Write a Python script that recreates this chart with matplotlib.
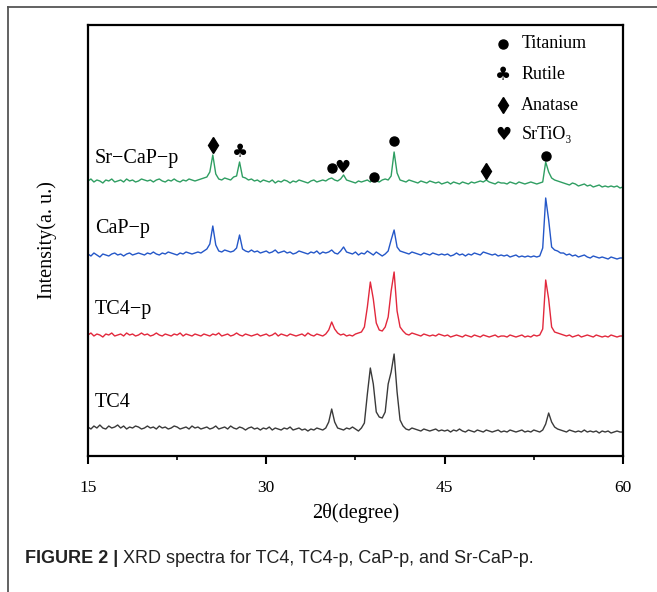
import matplotlib
matplotlib.use("Agg")
import numpy as np
import matplotlib.pyplot as plt
from matplotlib.lines import Line2D

# 2theta sampling (0.25 deg steps, 15..60)
two_theta = np.arange(15.0, 60.001, 0.25)

# raw intensities (a.u.), one row per 5 degrees
tc4 = [
    7, 5, 8, 6, 9, 6, 5, 8, 6, 7, 9, 6, 8, 5, 7, 6, 8, 7, 5, 6,
    8, 6, 7, 5, 8, 6, 7, 5, 6, 8, 7, 5, 6, 7, 5, 8, 6, 7, 5, 6,
    7, 5, 6, 8, 5, 6, 7, 5, 8, 6, 5, 7, 6, 4, 6, 7, 5, 6, 4, 6,
    5, 7, 4, 6, 5, 4, 6, 5, 7, 4, 5, 6, 4, 5, 3, 5, 4, 6, 5, 4,
    6, 12, 25, 12, 6, 5, 4, 6, 5, 7, 5, 3, 6, 11, 40, 66, 50, 22, 17, 16,
    22, 50, 62, 80, 42, 14, 8, 5, 4, 6, 5, 4, 3, 5, 4, 3, 4, 5, 3, 4,
    3, 4, 2, 4, 3, 5, 3, 2, 4, 3, 2, 4, 3, 2, 4, 3, 2, 3, 4, 2,
    3, 2, 4, 3, 2, 3, 4, 2, 3, 2, 4, 3, 2, 4, 10, 21, 12, 7, 5, 4,
    3, 2, 4, 3, 2, 3, 2, 4, 2, 3, 2, 3, 1, 3, 2, 3, 1, 2, 3, 2,
    2]
tc4_p = [
    6, 8, 5, 7, 6, 4, 7, 6, 8, 5, 6, 7, 5, 8, 6, 7, 5, 6, 8, 6,
    7, 5, 6, 8, 6, 5, 7, 6, 5, 7, 6, 8, 5, 7, 6, 5, 7, 6, 5, 7,
    6, 5, 7, 6, 8, 5, 6, 7, 5, 6, 8, 6, 5, 7, 6, 5, 6, 7, 5, 6,
    7, 5, 6, 8, 5, 7, 6, 5, 7, 6, 5, 6, 7, 5, 8, 6, 5, 7, 6, 5,
    7, 11, 19, 12, 8, 6, 7, 5, 6, 5, 7, 8, 9, 14, 34, 59, 42, 18, 11, 10,
    14, 24, 50, 69, 30, 14, 10, 7, 6, 8, 7, 6, 5, 7, 6, 5, 6, 5, 7, 6,
    5, 6, 4, 5, 6, 5, 4, 6, 5, 4, 6, 5, 4, 6, 5, 4, 5, 6, 4, 5,
    5, 4, 6, 5, 4, 5, 6, 4, 5, 4, 6, 5, 6, 12, 61, 42, 14, 9, 8, 7,
    6, 5, 6, 4, 5, 6, 4, 5, 6, 5, 4, 6, 5, 4, 5, 4, 6, 5, 4, 5,
    5]
cap_p = [
    6, 4, 7, 5, 3, 6, 5, 4, 6, 7, 5, 6, 4, 6, 7, 5, 6, 7, 6, 5,
    7, 6, 8, 6, 5, 7, 6, 8, 7, 6, 5, 7, 6, 8, 7, 6, 7, 8, 7, 9,
    11, 16, 34, 15, 9, 8, 10, 9, 8, 9, 12, 25, 11, 9, 8, 10, 8, 9, 7, 8,
    9, 7, 8, 10, 7, 8, 9, 7, 8, 6, 7, 9, 8, 7, 6, 8, 7, 9, 6, 8,
    7, 8, 10, 7, 6, 9, 13, 8, 7, 6, 8, 5, 7, 6, 9, 7, 5, 8, 6, 4,
    6, 9, 20, 30, 13, 9, 8, 7, 6, 8, 7, 6, 5, 7, 6, 5, 7, 6, 5, 6,
    5, 6, 4, 5, 7, 5, 6, 4, 6, 5, 7, 6, 5, 8, 7, 6, 5, 6, 4, 5,
    4, 5, 3, 4, 5, 3, 4, 3, 4, 3, 4, 3, 4, 12, 62, 40, 13, 10, 9, 7,
    7, 5, 6, 4, 5, 3, 4, 5, 3, 2, 4, 3, 2, 3, 2, 1, 3, 2, 1, 2,
    2]
sr_cap_p = [
    9, 11, 8, 10, 9, 7, 10, 9, 11, 8, 9, 10, 8, 11, 9, 10, 8, 9, 11, 10,
    9, 10, 8, 10, 11, 9, 8, 10, 9, 11, 9, 8, 10, 9, 11, 10, 9, 10, 11, 12,
    13, 18, 35, 16, 11, 10, 12, 11, 10, 13, 14, 28, 13, 12, 10, 11, 9, 10, 8, 10,
    9, 8, 10, 7, 9, 8, 10, 9, 7, 9, 8, 10, 9, 8, 7, 9, 10, 8, 9, 10,
    9, 11, 12, 10, 9, 11, 15, 10, 9, 8, 7, 9, 8, 9, 10, 8, 12, 9, 8, 10,
    11, 10, 14, 38, 17, 10, 9, 8, 10, 9, 8, 7, 9, 8, 7, 9, 8, 7, 8, 6,
    7, 8, 6, 8, 7, 6, 8, 7, 6, 8, 7, 8, 9, 8, 10, 8, 7, 6, 8, 7,
    7, 6, 8, 7, 6, 8, 7, 6, 7, 8, 7, 6, 7, 8, 28, 18, 12, 10, 9, 8,
    7, 6, 5, 7, 6, 4, 5, 6, 4, 5, 3, 4, 5, 3, 4, 3, 4, 3, 4, 2,
    3]

names = ["TC4", "TC4\u2212p", "CaP\u2212p", "Sr\u2212CaP\u2212p"]
colors = ["#3a3a3a", "#e2283c", "#2457c8", "#2f9e62"]
offsets = [22, 115, 196, 266]

# phase markers on the Sr-CaP-p pattern
mark_x = [25.5, 27.75, 35.5, 36.4, 39.05, 40.7, 48.5, 53.55]
mark_y = [311, 304, 288, 288, 279, 315, 285, 300]
mark_kind = ["A", "R", "T", "S", "T", "T", "A", "T"]

legend_kind = ["T", "R", "A", "S"]
legend_text = ["Titanium", "Rutile", "Anatase", "SrTiO\u2083"]

serif = ["Liberation Serif", "DejaVu Serif"]
plt.rcParams["font.family"] = serif

fig = plt.figure(figsize=(6.57, 5.92), dpi=100)
ax = fig.add_axes([0.1339, 0.2297, 0.8143, 0.7281])

for y, nm, c, off in zip([tc4, tc4_p, cap_p, sr_cap_p], names, colors, offsets):
    ax.plot(two_theta, np.array(y) + off, color=c, lw=1.0)
    ax.text(15.6, off + 22, nm, fontsize=14.5, va="bottom", ha="left")


def draw_mark(x, y, kind, transform):
    if kind == "T":
        ax.plot([x], [y], "o", color="black", ms=6.5, transform=transform, clip_on=False)
    elif kind == "A":
        ax.plot([x], [y], "d", color="black", ms=8, transform=transform, clip_on=False)
    elif kind == "R":
        ax.text(x, y, "\u2663", fontsize=13, ha="center", va="center",
                family="DejaVu Sans", transform=transform)
    else:
        ax.text(x, y, "\u2665", fontsize=13, ha="center", va="center",
                family="DejaVu Sans", transform=transform)


for x, y, k in zip(mark_x, mark_y, mark_kind):
    draw_mark(x, y, k, ax.transData)

leg_y = [0.956, 0.884, 0.814, 0.745]
for yy, k, t in zip(leg_y, legend_kind, legend_text):
    draw_mark(0.776, yy, k, ax.transAxes)
    ax.text(0.81, yy, t, fontsize=13, ha="left", va="center",
            transform=ax.transAxes, family=serif)

ax.set_xlim(15, 60)
ax.set_ylim(0, 431)
ax.set_xticks([15, 30, 45, 60])
ax.set_xticks([22.5, 37.5, 52.5], minor=True)
ax.set_yticks([])
ax.tick_params(axis="x", which="major", direction="out", length=6, width=1.5,
               pad=11, labelsize=12.5)
ax.tick_params(axis="x", which="minor", direction="out", length=3, width=1.2)
for s in ax.spines.values():
    s.set_linewidth(1.6)

ax.text(0.5, -0.133, "2\u03b8(degree)", transform=ax.transAxes,
        ha="center", va="center", fontsize=14.5)
ax.text(-0.076, 0.5, "Intensity(a. u.)", transform=ax.transAxes,
        ha="center", va="center", rotation=90, fontsize=14.5)

# outer frame (only top and left edges visible)
fig.add_artist(Line2D([0.0122, 0.0122], [0.0, 0.988], color="#555555", lw=1.3,
                      transform=fig.transFigure))
fig.add_artist(Line2D([0.0122, 1.0], [0.988, 0.988], color="#555555", lw=1.3,
                      transform=fig.transFigure))

# caption
t1 = fig.text(0.038, 0.049, "FIGURE 2 |", fontsize=13, fontweight="bold",
              family="Liberation Sans", color="#222222", va="baseline")
ax.annotate(" XRD spectra for TC4, TC4-p, CaP-p, and Sr-CaP-p.", xy=(1, 0),
            xycoords=t1, va="bottom", fontsize=13, family="Liberation Sans",
            color="#222222", annotation_clip=False)

fig.savefig("out.png", dpi=100)
